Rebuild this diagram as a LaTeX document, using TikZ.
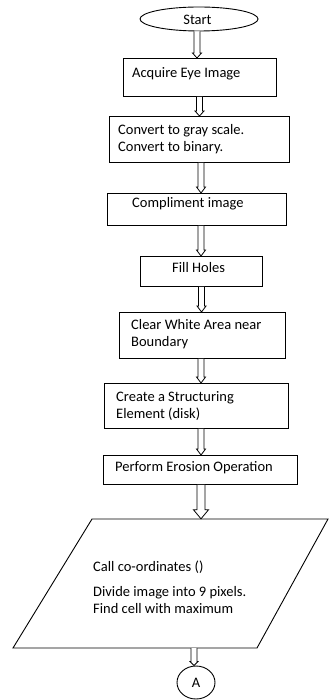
\documentclass[tikz,border=0pt]{standalone}
\usepackage{fontspec}
\setmainfont{Carlito}
\usetikzlibrary{shapes.geometric,calc}
\tikzset{
  box/.style={draw=black, line width=0.9pt, rectangle, inner sep=0pt, anchor=north west},
  txt/.style={anchor=west, inner sep=0pt, align=left, font=\fontsize{14.5}{17}\selectfont},
  ctxt/.style={inner sep=0pt, font=\fontsize{14.5}{17}\selectfont},
  harrowline/.style={draw=black, line width=0.8pt, fill=white, line join=miter}
}
% #1 from node, #2 to node, #3 x position, #4 shaft half width, #5 head half width, #6 head length
\newcommand\hollowarrow[6]{%
  \path[harrowline] let \p1=(#1.south), \p2=(#2.north) in
    ({#3-#4},\y1) -- ({#3-#4},{\y2+#6}) -- ({#3-#5},{\y2+#6}) -- (#3,\y2)
    -- ({#3+#5},{\y2+#6}) -- ({#3+#4},{\y2+#6}) -- ({#3+#4},\y1);
}
\begin{document}
\begin{tikzpicture}[x=1pt,y=-1pt]
\useasboundingbox (0,0) rectangle (329,700);
\fill[white] (0,0) rectangle (329,700);

% Start
\node[draw=black, line width=0.9pt, ellipse, minimum width=118pt, minimum height=24pt, inner sep=0pt] (start) at (199,19) {};
\node[ctxt] (startt) at (197.5,20) {Start};

% boxes (x, y top-left, width, height)
\node[box, minimum width=153pt, minimum height=38pt] (b1) at (123,58) {};
\node[txt] (t1) at (132,74) {Acquire Eye Image};

\node[box, minimum width=180pt, minimum height=46pt] (b2) at (109,116) {};
\node[txt] (t2) at (118,139.5) {Convert to gray scale.\\Convert to binary.};

\node[box, minimum width=179pt, minimum height=32pt] (b3) at (107,193) {};
\node[txt] (t3) at (132,204) {Compliment image};

\node[box, minimum width=122pt, minimum height=30pt] (b4) at (140,256) {};
\node[txt] (t4) at (172,268) {Fill Holes};

\node[box, minimum width=166pt, minimum height=46pt] (b5) at (119,312) {};
\node[txt] (t5) at (131,334) {Clear White Area near\\Boundary};

\node[box, minimum width=184pt, minimum height=45pt] (b6) at (104,383) {};
\node[txt] (t6) at (116,406) {Create a Structuring\\Element (disk)};

\node[box, minimum width=194pt, minimum height=29pt] (b7) at (103,455) {};
\node[txt] (t7) at (115,468) {Perform Erosion Operation};

% parallelogram
\node[inner sep=0pt, minimum width=160pt, minimum height=129pt] (para) at (172,583.5) {};
\draw[line width=0.9pt, line join=miter] (92,519) -- (328,519) -- (257,648) -- (13,648) -- cycle;
\node[txt] (t8a) at (93,567) {Call co-ordinates ()};
\node[txt] (t8b) at (93,600) {Divide image into 9 pixels.\\Find cell with maximum};

% connector A
\node[draw=black, line width=0.9pt, ellipse, minimum width=38pt, minimum height=33pt, inner sep=0pt] (conA) at (196,682.5) {};
\node[ctxt] (tA) at (196,683) {A};

% arrows
\hollowarrow{start}{b1}{197}{3}{4.5}{5}
\hollowarrow{b1}{b2}{199.5}{3}{4.5}{5}
\hollowarrow{b2}{b3}{201}{3}{4.5}{6}
\hollowarrow{b3}{b4}{201}{3}{4.5}{6}
\hollowarrow{b4}{b5}{201.5}{3}{4.5}{6}
\hollowarrow{b5}{b6}{201}{3}{4.5}{6}
\hollowarrow{b6}{b7}{201}{3}{4.5}{6}
\hollowarrow{b7}{para}{201}{4}{7.5}{9}
\hollowarrow{para}{conA}{194}{3}{4}{4}
\end{tikzpicture}
\end{document}
